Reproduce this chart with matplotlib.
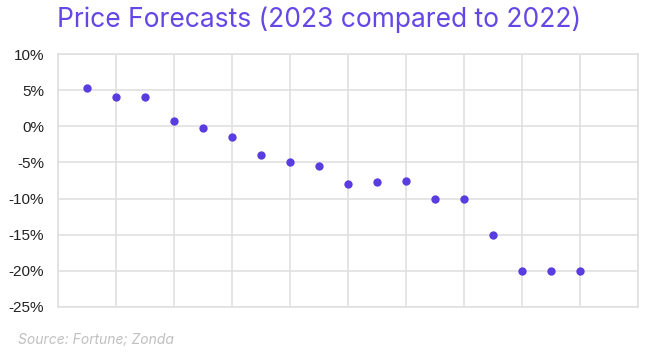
import matplotlib
matplotlib.use('Agg')
import matplotlib.pyplot as plt
from matplotlib.ticker import FuncFormatter

# forecast index (x position) and 2023 vs 2022 price change in %
positions = [1, 2, 3, 4, 5, 6, 7, 8, 9, 10, 11, 12, 13, 14, 15, 16, 17, 18]
changes = [5.3, 4.1, 4.0, 0.8, -0.2, -1.5, -4.0, -5.0, -5.5, -8.0, -7.7, -7.6,
           -10.0, -10.0, -15.0, -20.0, -20.0, -20.0]
y_ticks = [10, 5, 0, -5, -10, -15, -20, -25]

purple = '#5a3de0'
grid_col = '#e0e0e0'

plt.rcParams['font.family'] = ['Inter', 'DejaVu Sans']

fig = plt.figure(figsize=(6.52, 3.57), dpi=100)
ax = fig.add_axes([58 / 652, 1 - 307 / 357, 580 / 652, 253 / 357])

ax.scatter(positions, changes, s=36, color=purple, zorder=3, linewidths=0)

ax.set_xlim(0, 20)
ax.set_ylim(-25, 10)
ax.set_xticks(range(0, 21, 2))
ax.set_yticks(y_ticks)
ax.yaxis.set_major_formatter(FuncFormatter(lambda v, p: '%d%%' % v))
ax.tick_params(axis='x', length=0, labelbottom=False)
ax.tick_params(axis='y', length=0, pad=10, labelsize=11, labelcolor='#222222')
for lab in ax.get_yticklabels():
    lab.set_family(['Liberation Sans', 'DejaVu Sans'])
ax.grid(True, color=grid_col, linewidth=1.2)
ax.set_axisbelow(True)
for s in ax.spines.values():
    s.set_color(grid_col)
    s.set_linewidth(1.2)

fig.text(0.49, 1 - 20 / 357, 'Price Forecasts (2023 compared to 2022)', ha='center', va='center',
         fontsize=19, color='#6547e6')
fig.text(18 / 652, 1 - 340 / 357, 'Source: Fortune; Zonda', ha='left', va='center',
         fontsize=10, color='#c0c0c0', style='italic')

fig.savefig('out.png', dpi=100)
